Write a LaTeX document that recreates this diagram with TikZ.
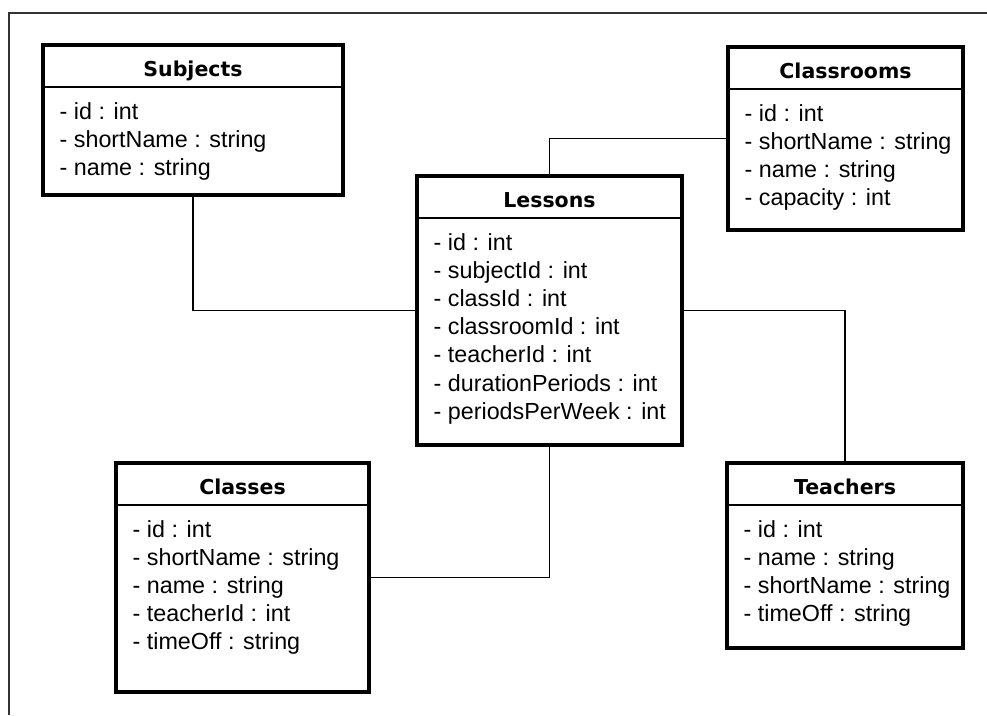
\documentclass[tikz,border=0pt]{standalone}
\usepackage{fontspec}
\setmainfont{Liberation Sans}
\newfontfamily\titlefont{DejaVu Sans}[BoldFont={DejaVu Sans Bold}]

\tikzset{
  classbox/.style={draw=black, line width=3.2pt, fill=white, inner sep=0pt, outer sep=0pt},
  sepline/.style={draw=black, line width=1.3pt},
  link/.style={draw=black, line width=1.3pt},
  frameline/.style={draw=black!80, line width=1.3pt},
  titletext/.style={inner sep=0pt, font=\titlefont\bfseries\fontsize{20.5}{24}\selectfont},
  attrtext/.style={inner sep=0pt, font=\fontsize{23.3}{28}\selectfont},
}

% #1 node name, #2 x, #3 y (top-left), #4 width, #5 height, #6 title, #7 attributes
\newcommand{\umlclassbox}[7]{%
  \node[classbox, minimum width=#4, minimum height=#5, anchor=north west] (#1) at (#2,#3) {};
  \draw[sepline] ([yshift=-42pt]#1.north west) -- ([yshift=-42pt]#1.north east);
  \node[titletext, anchor=base] (#1-title) at ([yshift=-31pt]#1.north) {#6};
  \foreach \a [count=\i] in {#7} {
    \node[attrtext, anchor=base west] (#1-a\i) at ([xshift=16.5pt, yshift={-74pt-28.2pt*(\i-1)}]#1.north west) {- \a};
  }%
}

\begin{document}
\begin{tikzpicture}[x=1pt, y=-1pt]
  \useasboundingbox (0,0) rectangle (987,715);

  % open frame: top and left edges only
  \coordinate (fr-bl) at (9,715);
  \coordinate (fr-tl) at (9,13);
  \coordinate (fr-tr) at (987,13);
  \draw[frameline] (fr-bl) -- (fr-tl) -- (fr-tr);

  \umlclassbox{subj}{43}{45}{300}{150}{Subjects}{id : int,shortName : string,name : string}
  \umlclassbox{room}{728}{47}{235}{183}{Classrooms}{id : int,shortName : string,name : string,capacity : int}
  \umlclassbox{less}{417}{176}{265}{269}{Lessons}{id : int,subjectId : int,classId : int,classroomId : int,teacherId : int,durationPeriods : int,periodsPerWeek : int}
  \umlclassbox{cls}{116}{463}{253}{229}{Classes}{id : int,shortName : string,name : string,teacherId : int,timeOff : string}
  \umlclassbox{teach}{727}{463}{236}{185}{Teachers}{id : int,name : string,shortName : string,timeOff : string}

  % associations
  \draw[link] (subj.south) |- (less.west);
  \draw[link] (less.north) |- (room.west);
  \draw[link] (less.east) -| (teach.north);
  \draw[link] (less.south) |- (cls.east);
\end{tikzpicture}
\end{document}
